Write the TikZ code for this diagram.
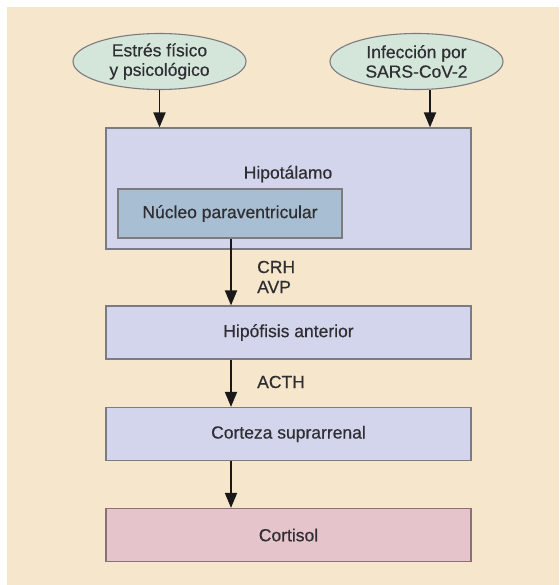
\documentclass[tikz,border=0pt]{standalone}
\usepackage{fontspec}
\setmainfont{Liberation Sans}
\newfontfamily\medfont[FakeBold=0.5]{Liberation Sans}
\usetikzlibrary{shapes.geometric,arrows.meta}
\definecolor{bgbeige}{HTML}{F6E6CB}
\definecolor{boxfill}{HTML}{D3D5EC}
\definecolor{nucfill}{HTML}{A8BFD3}
\definecolor{ellfill}{HTML}{D4E5D9}
\definecolor{cortfill}{HTML}{E6C4CB}
\definecolor{edgegray}{HTML}{7C7C80}
\definecolor{cortedge}{HTML}{8A7272}
\definecolor{txt}{HTML}{2E2E33}
\begin{document}
\begin{tikzpicture}[x=1pt,y=-1pt,
  every node/.style={font=\medfont\fontsize{17.5}{19.5}\selectfont, text=txt},
  ell/.style={ellipse, draw=edgegray, line width=1.1pt, fill=ellfill, minimum width=173pt, minimum height=56pt, inner sep=0pt, align=center},
  stagebox/.style={rectangle, draw=edgegray, line width=1.2pt, fill=boxfill, minimum width=365pt, minimum height=53pt, inner sep=0pt},
  nucbox/.style={rectangle, draw=edgegray, line width=1.2pt, fill=nucfill, minimum width=224pt, minimum height=49pt, inner sep=0pt},
  arr/.style={line width=1.9pt, draw=black!90, -{Triangle[length=15pt,width=12pt]}},
  lbl/.style={anchor=west, inner sep=0pt}
]
\useasboundingbox (0,0) rectangle (559,585);
\fill[white] (0,0) rectangle (559,585);
\fill[bgbeige] (7,7) rectangle (559,585);

\node[ell] (e1) at (159.5,61.5) {Estrés físico\\y psicológico};
\node[ell] (e2) at (416.5,61.5) {Infección por\\SARS-CoV-2};

\node[rectangle, draw=edgegray, line width=1.2pt, fill=boxfill, minimum width=365pt, minimum height=121pt, inner sep=0pt] (hip) at (288.5,188.5) {};
\node (hiptxt) at (288,174) {Hipotálamo};
\node[nucbox] (nuc) at (230,213.5) {Núcleo paraventricular};

\node[stagebox] (hipo) at (288.5,332.5) {Hipófisis anterior};
\node[stagebox] (cort) at (288.5,434) {Corteza suprarrenal};
\node[stagebox, fill=cortfill, draw=cortedge] (cortisol) at (288.5,535) {Cortisol};

\draw[arr] (e1.south) -- (e1.south |- hip.north);
\draw[arr] ([xshift=13.5pt]e2.south) -- ([xshift=13.5pt]e2.south |- hip.north);
\draw[arr] ([xshift=1pt]nuc.south) -- ([xshift=1pt]nuc.south |- hipo.north);
\coordinate (ax) at (231,0);
\draw[arr] (ax |- hipo.south) -- (ax |- cort.north);
\draw[arr] (ax |- cort.south) -- (ax |- cortisol.north);

\node[lbl] (crh) at (257,267) {CRH};
\node[lbl] (avp) at (257,287) {AVP};
\node[lbl] (acth) at (257,382) {ACTH};
\end{tikzpicture}
\end{document}
